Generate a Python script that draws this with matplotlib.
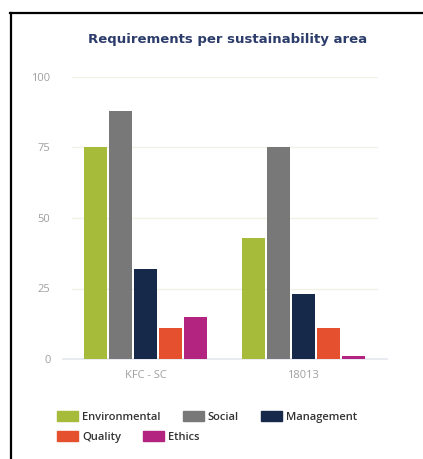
import matplotlib
matplotlib.use("Agg")
import matplotlib.pyplot as plt
from matplotlib.lines import Line2D
from matplotlib.patches import Patch
import numpy as np

# requirement counts per certificate
groups = ["KFC - SC", "18013"]
areas = ["Environmental", "Social", "Management", "Quality", "Ethics"]
environmental = [75, 43]
social = [88, 75]
management = [32, 23]
quality = [11, 11]
ethics = [15, 1]
yticks = [0, 25, 50, 75, 100]

colors = ["#a7bb3b", "#787878", "#16294a", "#e5502f", "#b22480"]
series = [environmental, social, management, quality, ethics]

plt.rcParams["font.family"] = ["Open Sans", "DejaVu Sans"]

fig = plt.figure(figsize=(4.23, 4.59), dpi=100)
ax = fig.add_axes([72/423, 1-359/459, 306/423, 282/459])

x = np.arange(len(groups))
step = 0.158
width = 0.146
for i, (vals, c) in enumerate(zip(series, colors)):
    ax.bar(x + (i - 2) * step, vals, width=width, color=c, zorder=3)

ax.set_xlim(-0.465, 1.472)
ax.set_ylim(0, 100)
ax.set_yticks(yticks)
ax.set_yticklabels([str(t) for t in yticks])
ax.set_xticks(x)
ax.set_xticklabels(groups)
ax.tick_params(length=0, colors="#a0a0a0", labelsize=8)
ax.tick_params(axis="y", pad=15.5)
ax.tick_params(axis="x", pad=8)
for s in ax.spines.values():
    s.set_visible(False)
ax.grid(axis="y", color="#f3f1e6", linewidth=1, zorder=0)
ax.axhline(0, xmin=-0.03, xmax=1.03, color="#e4e8ee", linewidth=1.2, clip_on=False, zorder=2)

fig.text(0.537, 1-40/459, "Requirements per sustainability area", ha="center", va="center",
         fontsize=9.5, fontweight="bold", color="#2d3d6b", family="DejaVu Sans")

# legend laid out in two rows
handles = [Patch(color=c) for c in colors]
kw = dict(frameon=False, prop={"family": "Open Sans", "weight": "semibold", "size": 8},
          handlelength=1.9, handleheight=0.9, handletextpad=0.35, columnspacing=2.0,
          labelcolor="#333333", borderaxespad=0, borderpad=0)
leg1 = fig.legend(handles[:3], areas[:3], ncol=3, loc="center left",
                  bbox_to_anchor=(57/423, 1-417/459), **kw)
leg2 = fig.legend(handles[3:], areas[3:], ncol=2, loc="center left",
                  bbox_to_anchor=(57/423, 1-437/459), **kw)

# outer frame
fig.add_artist(Line2D([10/423, 1], [1-13/459, 1-13/459], color="black", linewidth=1.6))
fig.add_artist(Line2D([11/423, 11/423], [0, 1-13/459], color="black", linewidth=1.6))

fig.savefig("out.png", dpi=100)
